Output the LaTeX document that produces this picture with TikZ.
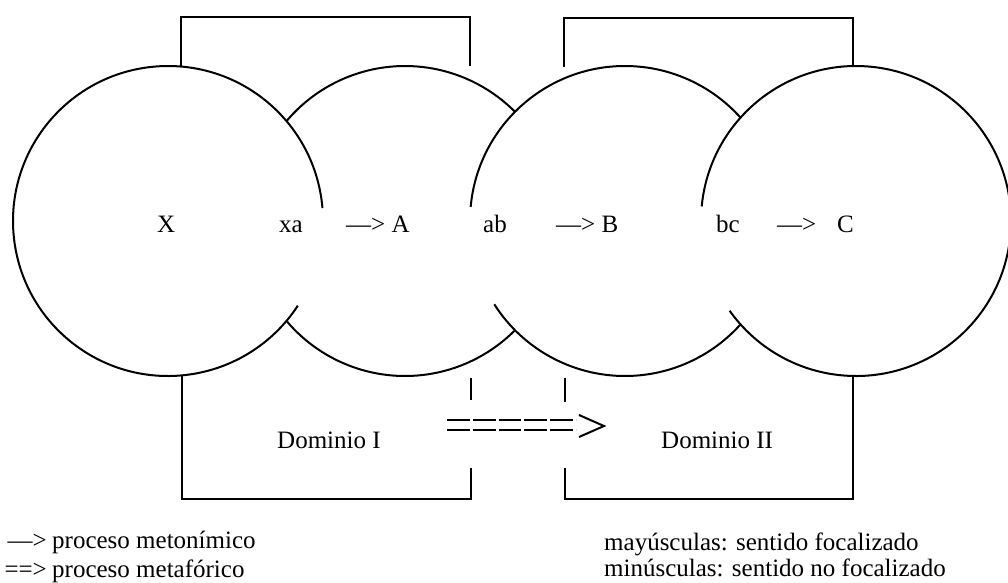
\documentclass[tikz,border=0pt]{standalone}
\usepackage{fontspec}
\setmainfont{Liberation Serif}
\usetikzlibrary{calc}
\begin{document}
\begin{tikzpicture}[x=1pt,y=-1pt,
  arcline/.style={line width=2pt},
  boxline/.style={line width=1.9pt},
  metaline/.style={line width=2pt},
  lbl/.style={anchor=base west, inner sep=0pt, font=\fontsize{25}{30}\selectfont},
  lble/.style={anchor=base east, inner sep=0pt, font=\fontsize{25}{30}\selectfont}]
\useasboundingbox (0,0) rectangle (1008,582);
\def\R{155}
% circle centres
\coordinate (cX) at (168,221);
\coordinate (cA) at (405,221);
\coordinate (cB) at (625,221);
\coordinate (cC) at (856,221);
% circles (arcs)
\draw[arcline] (cX) ++(-4.8:\R) arc[start angle=-4.8, end angle=-326.9, radius=\R];
\draw[arcline] (cA) ++(-139.8:\R) arc[start angle=-139.8, end angle=-44.7, radius=\R];
\draw[arcline] (cA) ++(139.8:\R) arc[start angle=139.8, end angle=44.7, radius=\R];
\draw[arcline] (cB) ++(-174.8:\R) arc[start angle=-174.8, end angle=-41.8, radius=\R];
\draw[arcline] (cB) ++(147.5:\R) arc[start angle=147.5, end angle=41.8, radius=\R];
\draw[arcline] (cC) ++(-174.6:\R) arc[start angle=-174.6, end angle=144.6, radius=\R];
% domain brackets
\draw[boxline] (181,66.5) -- (181,17) -- (470,17) -- (470,66);
\draw[boxline] (564,67) -- (564,18) -- (853,18) -- (853,66);
\draw[boxline] (182,376) -- (182,499) -- (471,499) -- (471,468);
\draw[boxline] (471,378) -- (471,400);
\draw[boxline] (565,378) -- (565,402);
\draw[boxline] (565,468) -- (565,499) -- (853,499) -- (853,376);
% labels
\node[lbl] (tX) at (157,232) {X};
\node[lbl] (txa) at (279,232) {xa};
\node[lbl] (tA) at (346,232) {—> A};
\node[lbl] (tab) at (483,232) {ab};
\node[lbl] (tB) at (556,232) {—> B};
\node[lbl] (tbc) at (716,232) {bc};
\node[lbl] (tar) at (777,232) {—>};
\node[lbl] (tC) at (837,232) {C};
\node[lbl] (d1) at (277,448) {Dominio I};
\node[lbl] (d2) at (661,448) {Dominio II};
% metaphor arrow
\coordinate (m1) at (447,425);
\coordinate (m2) at (604,426);
\draw[metaline, dash pattern=on 22.8pt off 3pt] ($(m1)+(0,-5)$) -- ($(m1)+(129,-5)$);
\draw[metaline, dash pattern=on 22.8pt off 3pt] ($(m1)+(0,5)$) -- ($(m1)+(129,5)$);
\draw[metaline] ($(m2)+(-25,-11)$) -- (m2) -- ($(m2)+(-25,11)$);
% legend
\node[lble] (k1) at (47,548) {—>};
\node[lbl] (k1t) at (52,548) {proceso metonímico};
\node[lble] (k2) at (47,577) {==>};
\node[lbl] (k2t) at (52,577) {proceso metafórico};
\node[lbl] (k3) at (604,550) {mayúsculas: sentido focalizado};
\node[lbl] (k4) at (604,576) {minúsculas: sentido no focalizado};
\end{tikzpicture}
\end{document}
